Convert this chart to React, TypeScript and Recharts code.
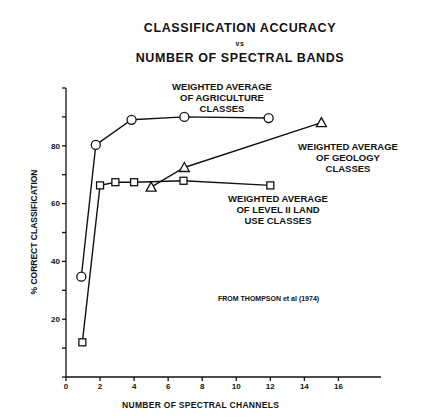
import React from 'react';
import { LineChart, Line, XAxis, YAxis } from 'recharts';

const agriculture = [
  { x: 0.9, y: 34.7 },
  { x: 1.75, y: 80.3 },
  { x: 3.85, y: 89 },
  { x: 6.95, y: 90 },
  { x: 11.9, y: 89.6 },
];
const landUse = [
  { x: 0.96, y: 12 },
  { x: 2, y: 66.3 },
  { x: 2.9, y: 67.4 },
  { x: 4, y: 67.4 },
  { x: 6.9, y: 67.9 },
  { x: 12, y: 66.3 },
];
const geology = [
  { x: 5, y: 65.7 },
  { x: 6.95, y: 72.5 },
  { x: 15, y: 88 },
];
const xTicks = [0, 2, 4, 6, 8, 10, 12, 14, 16];
const yTicks = [0, 10, 20, 30, 40, 50, 60, 70, 80, 90, 100];
const yLabels = [20, 40, 60, 80];

const FONT = 'Liberation Sans, Arial, sans-serif';

const Circle = (p: any) => <circle key={p.index} cx={p.cx} cy={p.cy} r={4.5} fill="#fff" stroke="#111" strokeWidth={1.3} />;
const Square = (p: any) => <rect key={p.index} x={p.cx - 3.5} y={p.cy - 3.5} width={7} height={7} fill="#fff" stroke="#111" strokeWidth={1.3} />;
const Triangle = (p: any) => (
  <polygon key={p.index} points={`${p.cx},${p.cy - 5} ${p.cx - 5},${p.cy + 4} ${p.cx + 5},${p.cy + 4}`} fill="#fff" stroke="#111" strokeWidth={1.3} />
);

const note: React.CSSProperties = {
  position: 'absolute', fontFamily: FONT, fontWeight: 'bold', fontSize: 9.5, lineHeight: '11px', textAlign: 'center', color: '#111',
};

export default function App() {
  return (
    <div style={{ position: 'fixed', left: 0, top: 0, width: 430, height: 419, background: '#fff' }}>
      <div style={{ ...note, left: 0, width: 480, top: 21, fontSize: 12.5, lineHeight: '14px', letterSpacing: 0.6 }}>
        CLASSIFICATION ACCURACY<br />
        <span style={{ fontSize: 7 }}>vs</span><br />
        NUMBER OF SPECTRAL BANDS
      </div>
      <LineChart width={430} height={419} margin={{ top: 88, right: 49, left: 36, bottom: 22 }}>
        <XAxis type="number" dataKey="x" domain={[0, 18.5]} ticks={xTicks} allowDuplicatedCategory={false}
          stroke="#111" strokeWidth={1.3} tickSize={4} height={20}
          tick={{ fill: '#111', fontSize: 8, fontFamily: FONT, fontWeight: 'bold' }} />
        <YAxis type="number" domain={[0, 100]} ticks={yTicks} width={30}
          tickFormatter={(v: number) => (yLabels.includes(v) ? String(v) : '')}
          stroke="#111" strokeWidth={1.3} tickSize={4}
          tick={{ fill: '#111', fontSize: 8, fontFamily: FONT, fontWeight: 'bold' }} />
        <Line data={agriculture} dataKey="y" stroke="#111" strokeWidth={1.4} dot={Circle} isAnimationActive={false} />
        <Line data={landUse} dataKey="y" stroke="#111" strokeWidth={1.4} dot={Square} isAnimationActive={false} />
        <Line data={geology} dataKey="y" stroke="#111" strokeWidth={1.4} dot={Triangle} isAnimationActive={false} />
      </LineChart>
      <div style={{ ...note, left: 152, width: 140, top: 81 }}>WEIGHTED AVERAGE<br />OF AGRICULTURE<br />CLASSES</div>
      <div style={{ ...note, left: 278, width: 140, top: 141 }}>WEIGHTED AVERAGE<br />OF GEOLOGY<br />CLASSES</div>
      <div style={{ ...note, left: 208, width: 140, top: 193 }}>WEIGHTED AVERAGE<br />OF LEVEL II LAND<br />USE CLASSES</div>
      <div style={{ ...note, left: 218, top: 293, fontSize: 7 }}>FROM THOMPSON et al (1974)</div>
      <div style={{ ...note, left: 122, top: 400, fontSize: 8.5, letterSpacing: 0.3 }}>NUMBER OF SPECTRAL CHANNELS</div>
      <div style={{ ...note, left: 34, top: 232, fontSize: 8.5, width: 0, whiteSpace: 'nowrap' }}>
        <div style={{ transform: 'translate(-50%, -50%) rotate(-90deg)', display: 'inline-block' }}>% CORRECT CLASSIFICATION</div>
      </div>
    </div>
  );
}
